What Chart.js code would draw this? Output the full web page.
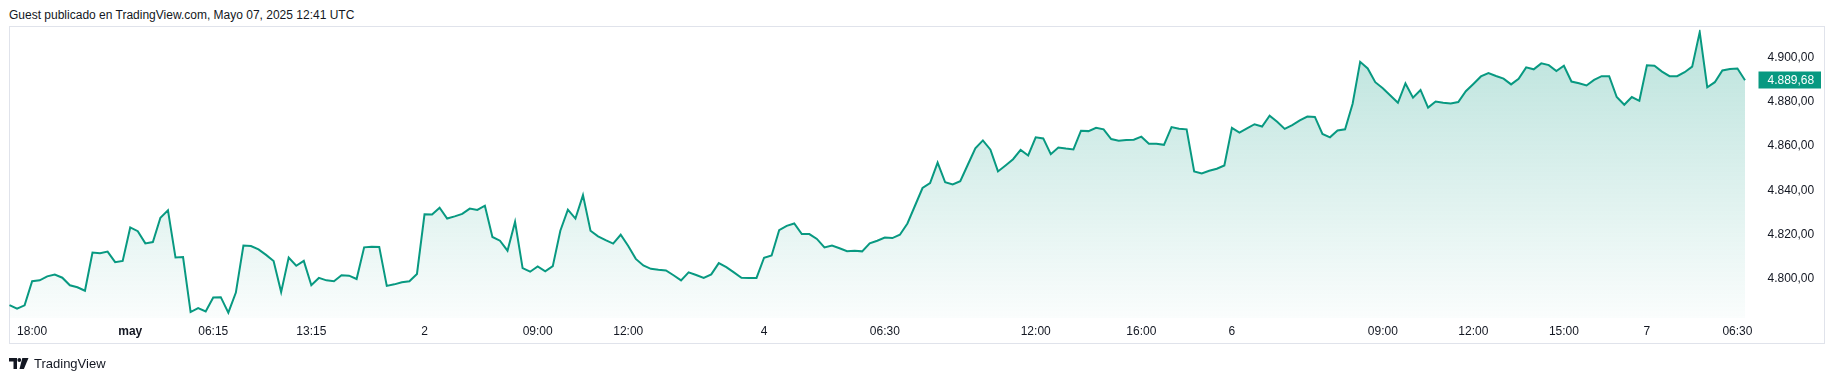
<!DOCTYPE html>
<html lang="es">
<head>
<meta charset="UTF-8">
<title>TradingView snapshot</title>
<script src="https://cdn.jsdelivr.net/npm/chart.js"></script>
<style>
  body { margin: 0; background: #fff; }
  #wrap { position: relative; width: 1836px; height: 380px; font-family: 'Liberation Sans', Arial, sans-serif; color: #131722; }
  #title { position: absolute; left: 9px; top: 7px; font-size: 12px; line-height: 16px; }
  #logo { position: absolute; left: 9px; top: 354px; height: 18px; display: flex; align-items: center; font-size: 13px; }
  #logo svg { margin-right: 5px; }
  canvas { position: absolute; left: 0; top: 0; }
</style>
</head>
<body>
<div id="wrap">
  <div id="title">Guest publicado en TradingView.com, Mayo 07, 2025 12:41 UTC</div>
  <canvas id="myChart" width="1836" height="380"></canvas>
  <div id="logo">
    <svg width="20" height="11" viewBox="0 0 20 11">
      <path d="M0 0h8v11H4.5V3.4H0z" fill="#131722"/>
      <circle cx="10.3" cy="2" r="1.9" fill="#131722"/>
      <path d="M13.3 0h6.2l-4.6 11h-4.4z" fill="#131722"/>
    </svg>
    <span>TradingView</span>
  </div>
</div>

<script>
  // price series (one point per bar)
  const prices = [
    4788.1, 4786.5, 4788.0, 4798.9, 4799.3, 4801.1, 4801.9, 4800.5, 4797.1, 4796.2,
    4794.6, 4811.9, 4811.6, 4812.3, 4807.5, 4808.1, 4823.2, 4821.5, 4816.0, 4816.6,
    4827.6, 4830.9, 4809.6, 4809.8, 4785.0, 4786.8, 4785.3, 4791.6, 4791.7, 4784.7,
    4793.8, 4815.0, 4814.8, 4813.3, 4810.8, 4808.0, 4794.0, 4809.6, 4805.9, 4808.1,
    4797.1, 4800.4, 4799.3, 4798.9, 4801.6, 4801.4, 4799.9, 4814.2, 4814.5, 4814.4,
    4796.8, 4797.5, 4798.4, 4798.9, 4802.2, 4829.1, 4829.0, 4832.1, 4827.2, 4828.2,
    4829.3, 4831.7, 4831.1, 4833.0, 4818.9, 4817.2, 4812.7, 4825.7, 4804.8, 4803.2,
    4805.6, 4803.4, 4805.7, 4821.7, 4831.2, 4827.2, 4837.8, 4821.7, 4819.2, 4817.5,
    4815.9, 4819.9, 4814.8, 4809.0, 4806.0, 4804.5, 4804.1, 4803.8, 4801.6, 4799.3,
    4802.9, 4801.7, 4800.4, 4802.0, 4807.1, 4805.3, 4802.9, 4800.5, 4800.4, 4800.4,
    4809.5, 4810.5, 4822.0, 4823.9, 4825.0, 4820.2, 4820.2, 4818.0, 4814.2, 4815.0,
    4813.8, 4812.5, 4812.7, 4812.4, 4816.0, 4817.2, 4818.6, 4818.4, 4819.9, 4825.0,
    4833.0, 4841.0, 4843.2, 4852.5, 4843.6, 4842.6, 4844.1, 4851.5, 4858.9, 4862.5,
    4858.3, 4848.5, 4851.2, 4854.0, 4858.2, 4855.7, 4863.9, 4863.4, 4856.3, 4859.3,
    4858.8, 4858.4, 4866.9, 4866.7, 4868.2, 4867.5, 4863.1, 4862.4, 4862.7, 4862.8,
    4864.2, 4861.0, 4861.0, 4860.5, 4868.5, 4867.8, 4867.5, 4848.5, 4847.6, 4848.8,
    4849.7, 4851.2, 4868.2, 4866.0, 4867.9, 4869.8, 4868.8, 4873.7, 4870.9, 4867.7,
    4869.4, 4871.5, 4873.3, 4873.1, 4865.4, 4863.9, 4867.0, 4867.5, 4879.1, 4898.0,
    4895.0, 4888.8, 4886.1, 4882.8, 4879.5, 4888.2, 4881.8, 4885.3, 4877.3, 4880.1,
    4879.5, 4879.2, 4879.8, 4884.7, 4888.0, 4891.4, 4892.9, 4891.6, 4890.4, 4887.8,
    4890.3, 4895.5, 4894.6, 4897.3, 4896.5, 4893.8, 4896.2, 4889.1, 4888.3, 4887.3,
    4889.8, 4891.5, 4891.5, 4882.1, 4878.6, 4882.1, 4880.4, 4896.4, 4896.2, 4893.6,
    4891.5, 4891.5, 4893.3, 4895.8, 4911.4, 4886.5, 4888.8, 4894.1, 4894.7, 4895.0,
    4889.68
  ];

  // time axis labels: bar index -> text
  const tickIdx  = [3, 16, 27, 40, 55, 70, 82, 100, 116, 136, 150, 162, 182, 194, 206, 217, 229];
  const tickText = ['18:00', 'may', '06:15', '13:15', '2', '09:00', '12:00', '4', '06:30', '12:00', '16:00', '6', '09:00', '12:00', '15:00', '7', '06:30'];

  const yTicks = [4800, 4820, 4840, 4860, 4880, 4900];
  const lastPrice = prices[prices.length - 1];

  const labels = prices.map(() => '');
  tickIdx.forEach((i, k) => { labels[i] = tickText[k]; });

  const GREEN = '#089981';
  const TEXT = '#131722';

  // 4889.68 -> "4.889,68"
  const fmt = (v) => {
    const [a, b] = v.toFixed(2).split('.');
    return a.replace(/\B(?=(\d{3})+(?!\d))/g, '.') + ',' + b;
  };

  Chart.defaults.font.family = "'Liberation Sans', Arial, sans-serif";
  Chart.defaults.font.size = 12;
  Chart.defaults.color = TEXT;

  const frame = {
    id: 'frame',
    beforeDraw(chart) {
      const c = chart.ctx;
      c.save();
      c.strokeStyle = '#e0e3eb';
      c.lineWidth = 1;
      c.strokeRect(9.5, 26.5, 1815, 317);
      c.restore();
    },
    afterDraw(chart) {
      const c = chart.ctx;
      const y = chart.scales.y.getPixelForValue(lastPrice);
      c.save();
      c.fillStyle = GREEN;
      c.fillRect(1758.5, Math.round(y) - 8.5, 62.5, 17);
      c.fillStyle = '#ffffff';
      c.font = "12px 'Liberation Sans', Arial, sans-serif";
      c.textBaseline = 'middle';
      c.fillText(fmt(lastPrice), 1767.5, Math.round(y) + 0.5);
      c.restore();
    }
  };

  const ctx = document.getElementById('myChart').getContext('2d');
  new Chart(ctx, {
    type: 'line',
    data: {
      labels: labels,
      datasets: [{
        data: prices,
        borderColor: GREEN,
        borderWidth: 2,
        pointRadius: 0,
        tension: 0,
        fill: 'start',
        backgroundColor: (context) => {
          const { ctx, chartArea } = context.chart;
          if (!chartArea) return 'rgba(8,153,129,0.1)';
          const g = ctx.createLinearGradient(0, chartArea.top, 0, chartArea.bottom);
          g.addColorStop(0, 'rgba(8,153,129,0.28)');
          g.addColorStop(1, 'rgba(8,153,129,0.02)');
          return g;
        }
      }]
    },
    options: {
      responsive: false,
      animation: false,
      layout: { padding: { left: 9.5, top: 27, right: 0, bottom: 36 } },
      plugins: { legend: { display: false }, tooltip: { enabled: false } },
      scales: {
        x: {
          type: 'category',
          offset: false,
          grid: { display: false, drawTicks: false },
          border: { display: false },
          ticks: {
            autoSkip: false,
            maxRotation: 0,
            minRotation: 0,
            padding: 6,
            color: TEXT,
            font: (c) => ({ size: 12, weight: c.tick && c.tick.label === 'may' ? 'bold' : 'normal' })
          },
          afterFit: (s) => { s.height = 26; }
        },
        y: {
          position: 'right',
          min: 4782.3,
          max: 4912.5,
          grid: { display: false, drawTicks: false },
          border: { display: false },
          ticks: { padding: 22.5, color: TEXT, callback: (v) => fmt(v) },
          afterBuildTicks: (s) => { s.ticks = yTicks.map(v => ({ value: v })); },
          afterFit: (s) => { s.width = 91; }
        }
      }
    },
    plugins: [frame]
  });
</script>
</body>
</html>
